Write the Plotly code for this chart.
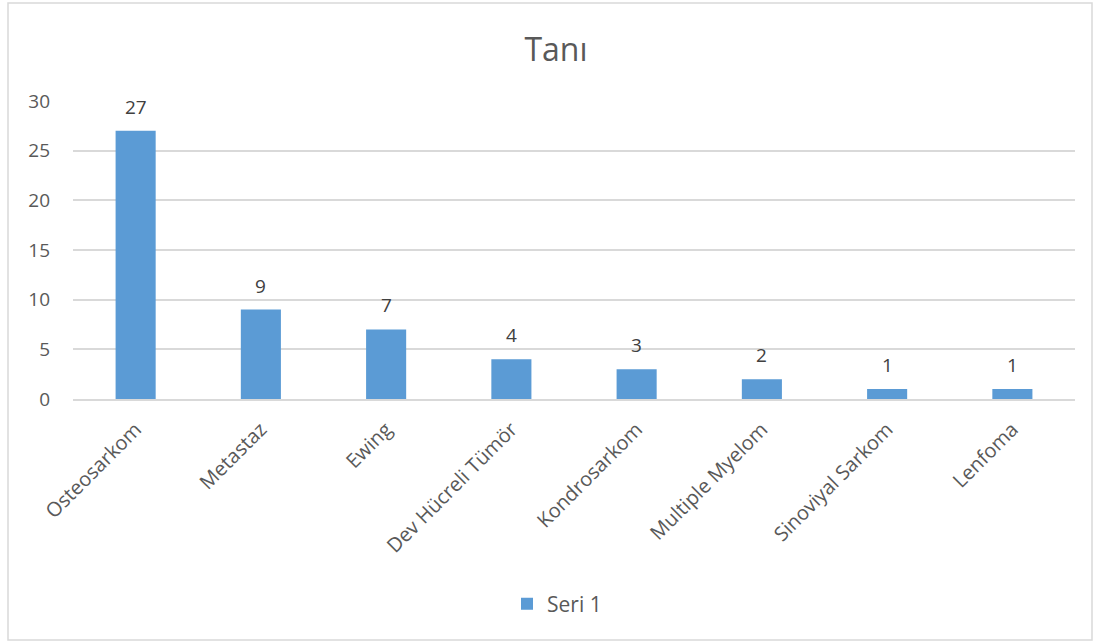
import plotly.graph_objects as go

# Diagnosis counts
categories = ["Osteosarkom", "Metastaz", "Ewing", "Dev Hücreli Tümör",
              "Kondrosarkom", "Multiple Myelom", "Sinoviyal Sarkom", "Lenfoma"]
values = [27, 9, 7, 4, 3, 2, 1, 1]
series_name = "Seri 1"
title_text = "Tanı"

W, H = 1101, 643
L, R, T, B = 73, 1075, 101, 399  # plot area in pixels

FONT = "Open Sans, sans-serif"
BAR = "#5B9BD5"
GRID = "#D9D9D9"
TXT = "#595959"


def px_x(p):
    return (p - L) / (R - L)


def px_y(p):
    return (B - p) / (B - T)


fig = go.Figure()
fig.add_trace(go.Bar(
    x=categories, y=values, name=series_name,
    marker=dict(color=BAR, line=dict(width=0)),
    width=0.32,
))

# value labels above bars
for c, v in zip(categories, values):
    fig.add_annotation(x=c, y=v, text=str(v), showarrow=False,
                       yanchor="bottom", yshift=9,
                       font=dict(family=FONT, size=19, color="#404040"))

# chart border
fig.add_shape(type="rect", xref="paper", yref="paper",
              x0=px_x(8), x1=px_x(1092), y0=px_y(640), y1=px_y(3),
              line=dict(color="#D9D9D9", width=1.5), layer="below")

fig.update_layout(
    width=W, height=H,
    margin=dict(l=L, r=W - R, t=T, b=H - B),
    paper_bgcolor="white", plot_bgcolor="white",
    title=dict(text=title_text, x=556 / W, xanchor="center", xref="container",
               y=1 - 50 / H, yanchor="middle",
               font=dict(family=FONT, size=32, color=TXT)),
    showlegend=True,
    legend=dict(orientation="h", x=px_x(557), xanchor="center",
                y=px_y(604), yanchor="middle",
                font=dict(family=FONT, size=21, color=TXT),
                itemwidth=30),
)
fig.update_xaxes(tickangle=-45, tickfont=dict(family=FONT, size=20, color=TXT),
                 showgrid=False, showline=True, linecolor=GRID, linewidth=1.5,
                 ticks="", ticklabelstandoff=9)
fig.update_yaxes(range=[0, 30], dtick=5, showgrid=True, gridcolor=GRID,
                 gridwidth=1.5, zeroline=False, showline=False,
                 tickfont=dict(family=FONT, size=19, color=TXT),
                 ticklabelstandoff=22)

fig.write_html("out.html")
